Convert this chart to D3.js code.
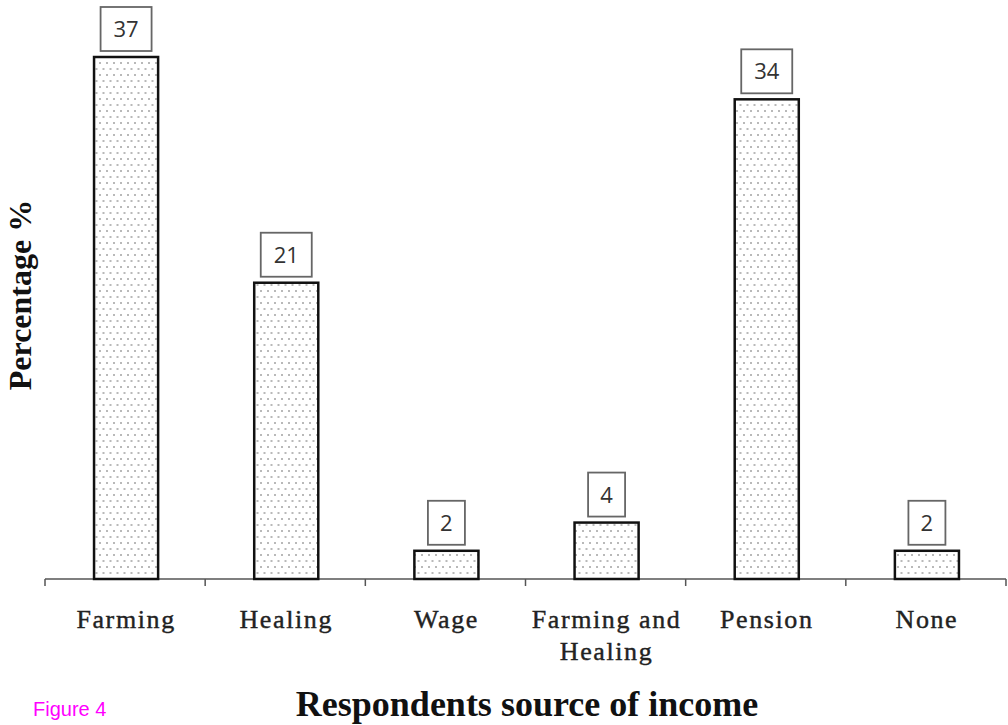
<!DOCTYPE html>
<html><head><meta charset="utf-8">
<script src="https://cdn.jsdelivr.net/npm/d3@7"></script>
<style>body{margin:0;background:#fff}svg{display:block}</style>
</head><body>
<script>
const categories = ["Farming","Healing","Wage","Farming and Healing","Pension","None"];
const tickLines = [["Farming"],["Healing"],["Wage"],["Farming and","Healing"],["Pension"],["None"]];
const values = [37,21,2,4,34,2];

const W=1008,H=725;
const svg=d3.select("body").append("svg").attr("width",W).attr("height",H);
const defs=svg.append("defs");
const pat=defs.append("pattern").attr("id","dots").attr("patternUnits","userSpaceOnUse")
  .attr("width",14).attr("height",12);
pat.append("rect").attr("width",14).attr("height",12).attr("fill","#fff");
[[2,3],[9,3],[5.5,9],[12.5,9]].forEach(([cx,cy])=>pat.append("rect").attr("x",cx-1).attr("y",cy-0.8).attr("width",2).attr("height",1.6).attr("fill","#a8a8a8"));

const x0=45,x1=1006,base=579;
const x=d3.scaleBand().domain(categories).range([x0,x1]).paddingInner(0.6).paddingOuter(0.3);
const y=d3.scaleLinear().domain([0,37]).range([base,57]);

const g=svg.append("g");
g.append("line").attr("x1",x0).attr("x2",x1).attr("y1",base).attr("y2",base).attr("stroke","#555").attr("stroke-width",1.5);
const step=(x1-x0)/categories.length;
d3.range(categories.length+1).forEach(i=>{
  g.append("line").attr("x1",x0+i*step).attr("x2",x0+i*step).attr("y1",base).attr("y2",base+7).attr("stroke","#555").attr("stroke-width",1.5);
});

svg.selectAll(".bar").data(values).join("rect")
  .attr("x",(d,i)=>x(categories[i])+1)
  .attr("y",d=>y(d))
  .attr("width",x.bandwidth())
  .attr("height",d=>base-y(d))
  .attr("fill","url(#dots)").attr("stroke","#111").attr("stroke-width",2.5);

values.forEach((d,i)=>{
  const cx=x(categories[i])+1+x.bandwidth()/2;
  const txt=String(d);
  const bw=txt.length>1?51:37, bh=44;
  const by=y(d)-6-bh;
  svg.append("rect").attr("x",cx-bw/2).attr("y",by).attr("width",bw).attr("height",bh)
    .attr("fill","#fff").attr("stroke","#666").attr("stroke-width",1.8);
  svg.append("text").attr("x",cx).attr("y",by+bh/2+8).attr("text-anchor","middle")
    .attr("font-family","'Open Sans','DejaVu Sans',sans-serif").attr("font-size",22).attr("fill","#333").text(txt);
});

tickLines.forEach((lines,i)=>{
  const cx=x(categories[i])+1+x.bandwidth()/2;
  lines.forEach((ln,j)=>{
    svg.append("text").attr("x",cx).attr("y",628+j*32).attr("text-anchor","middle")
      .attr("font-family","'Liberation Serif','Times New Roman',serif").attr("font-size",26)
      .attr("letter-spacing",1.6).attr("stroke","#222").attr("stroke-width",0.4)
      .attr("fill","#222").text(ln);
  });
});

svg.append("text").attr("transform","translate(31,295) rotate(-90)").attr("text-anchor","middle")
  .attr("font-family","'Liberation Serif','Times New Roman',serif").attr("font-weight","bold").attr("font-size",32).attr("fill","#111").text("Percentage %");

svg.append("text").attr("x",527).attr("y",716).attr("text-anchor","middle")
  .attr("font-family","'Liberation Serif','Times New Roman',serif").attr("font-weight","bold").attr("font-size",36).attr("fill","#111").text("Respondents source of income");

svg.append("text").attr("x",33).attr("y",716)
  .attr("font-family","'Liberation Sans',Arial,sans-serif").attr("font-size",20).attr("fill","#ff00ff").text("Figure 4");
</script>
</body></html>
